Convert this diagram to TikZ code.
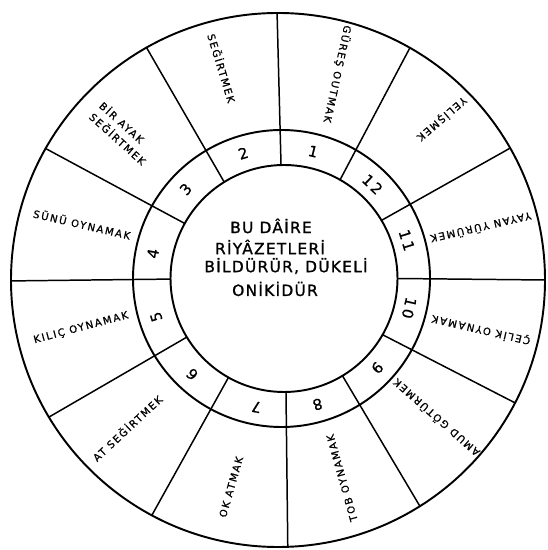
\documentclass[tikz,border=0pt]{standalone}
\usepackage{fontspec}
\newfontfamily\handfont[LetterSpace=16,FakeBold=0.8]{DejaVu Sans}
\newfontfamily\midfont[LetterSpace=8,FakeBold=1.2]{DejaVu Sans}
\usetikzlibrary{calc}

\begin{document}
\begin{tikzpicture}[x=0.02cm, y=0.02cm, line cap=round, line join=round]
\tikzset{rim/.style={line width=1.1pt}, divider/.style={line width=0.85pt},
  lbl/.style={font=\handfont\fontsize{5.8}{8.5}\selectfont, inner sep=0pt},
  num/.style={font=\handfont\fontsize{8.5}{9}\selectfont, inner sep=0pt},
  ctr/.style={font=\midfont\fontsize{8.8}{9}\selectfont, inner sep=0pt}}
\useasboundingbox (0,0) rectangle (547,550);

% centres (px, y up)
\coordinate (O) at (278,270);
\coordinate (R) at (281.5,271.5);
\coordinate (I) at (284,271.5);

% circles
\draw[rim] (O) circle (267);
\draw[rim] (R) circle (148.5);
\draw[rim] (I) circle (113.5);

% dividers: angle on inner circle / angle on outer circle
\foreach \a/\b in {91.5/90.2, 60.4/60.4, 30.8/29.6, 0/0, -29.7/-27.4, -59/-57.9,
  -89/-87.9, -119.3/-118.2, 211.1/210.9, 180.3/180.2, 151/150.5, 121.8/119.5}
  \draw[divider] ($(I)+(\a:113.5)$) -- ($(O)+(\b:267)$);

% ring numbers
\foreach \n/\a in {1/76, 2/107, 3/137, 4/169, 5/197, 6/227, 7/259, 8/286,
  9/317, 10/347, 11/17, 12/46}
  \node[num, rotate=\a-90] (n\n) at ($(R)+(\a:131)$) {\n};

% sector labels
\node[lbl, rotate=-102] (s1) at (337.5,476) {GÜREŞ OUTMAK};
\node[lbl, rotate=-73] (s2) at (222,482) {SEĞİRTMEK};
\node[lbl, rotate=-42, align=left] (s3) at (123,417) {BİR AYAK\\SEĞİRTMEK};
\node[lbl, rotate=-13] (s4) at (82,326) {SÜNÜ OYNAMAK};
\node[lbl, rotate=15] (s5) at (81,222) {KILIÇ OYNAMAK};
\node[lbl, rotate=43] (s6) at (127,122) {AT SEĞİRTMEK};
\node[lbl, rotate=74] (s7) at (231,63) {OK ATMAK};
\node[lbl, rotate=105.7] (s8) at (342,72) {TOB OYNAMAK};
\node[lbl, rotate=138.7] (s9) at (436,132) {AMUD GÖTÜRMEK};
\node[lbl, rotate=167] (s10) at (481,220) {ÇELİK OYNAMAK};
\node[lbl, rotate=193] (s11) at (481,322) {YAYAN YÜRÜMEK};
\node[lbl, rotate=220.6] (s12) at (442,431) {YELİŞMEK};

% centre text
\node[ctr] (c1) at (271,324) {BU DÂİRE};
\node[ctr] (c2) at (270,303) {RİYÂZETLERİ};
\node[ctr] (c3) at (286,284) {BİLDÜRÜR, DÜKELİ};
\node[ctr] (c4) at (275,261) {ONİKİDÜR};
\end{tikzpicture}
\end{document}
